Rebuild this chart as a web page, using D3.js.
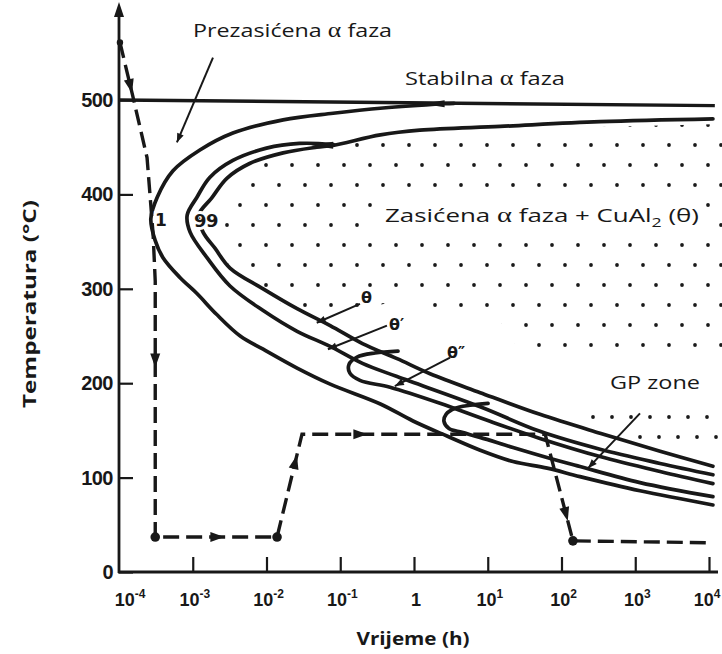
<!DOCTYPE html>
<html>
<head>
<meta charset="utf-8">
<script src="https://cdn.jsdelivr.net/npm/d3@7/dist/d3.min.js"></script>
<style>
body { margin: 0; background: #fff; }
svg { display: block; }
</style>
</head>
<body>
<svg id="chart"></svg>
<script>
var width = 722,
    height = 654;

// axis ticks
var xTicks = [1e-4, 1e-3, 1e-2, 1e-1, 1, 10, 100, 1000, 1e4],
    xTickBase = ['10', '10', '10', '10', '1', '10', '10', '10', '10'],
    xTickExp = ['-4', '-3', '-2', '-1', '', '1', '2', '3', '4'],
    yTicks = [0, 100, 200, 300, 400, 500];

// curves, each point = [vrijeme (h), temperatura (°C)]
var solvus = [[1e-4, 500], [1.2e4, 494]];
var theta1 = [[3.5, 496.5], [2.6, 496], [0.38, 491.5], [0.08, 486], [0.0168, 479], [3.5e-3, 465], [1.25e-3, 447],
    [5.4e-4, 425], [3.3e-4, 397], [2.7e-4, 374], [3.1e-4, 351], [3.95e-4, 333], [6.7e-4, 312], [1.14e-3, 295],
    [2.1e-3, 273], [4.4e-3, 250], [9e-3, 236], [0.026, 216], [0.073, 199], [0.35, 178], [0.97, 160], [2.8, 144],
    [7.9, 129], [22, 117], [64, 110], [178, 101], [1160, 86], [1.13e4, 71]];
var theta99 = [[1.13e4, 480], [333, 477], [14.7, 472], [1.2, 468], [0.35, 463], [0.08, 452], [0.048, 450],
    [0.0168, 444], [6e-3, 433], [2.9e-3, 417], [1.8e-3, 396], [1.2e-3, 378], [1.38e-3, 360], [2e-3, 343],
    [3.2e-3, 322], [9e-3, 300], [0.026, 279], [0.073, 261], [0.2, 242], [0.59, 226], [1.65, 210], [7.9, 190],
    [51, 167], [333, 147], [2170, 128], [1.13e4, 112]];
var thetaP = [[0.08, 453], [0.028, 454], [0.01, 449], [3.5e-3, 436], [1.7e-3, 418], [1.14e-3, 397], [8.4e-4, 378],
    [9.2e-4, 360], [1.56e-3, 333], [3.2e-3, 303], [9e-3, 277], [0.026, 255], [0.073, 239], [0.2, 221],
    [0.59, 207], [7.9, 175], [51, 149], [333, 130], [2170, 115], [1.13e4, 103]];
var thetaPP = [[0.607, 234], [0.296, 232], [0.169, 227.7], [0.1315, 220], [0.135, 210.6], [0.185, 203],
    [0.473, 195.7], [2.25, 178.7], [10.7, 159.6], [51, 141.5], [333, 122.3], [2170, 106.4], [1.13e4, 93.6]];
var gpZone = [[10.1, 178.7], [5.74, 176.6], [3.6, 173.4], [2.72, 167], [2.55, 159.6], [2.98, 152], [4.48, 147.9],
    [7.85, 142.6], [22, 131.9], [63.5, 121.3], [178, 111.7], [1160, 94.7], [1.13e4, 79.8]];

// heat treatment path (dashed)
var quench = [[1.03e-4, 561], [1.55e-4, 503], [2.4e-4, 439], [2.9e-4, 358], [3.1e-4, 308], [3.1e-4, 37],
    [0.0139, 37], [0.0303, 146], [60, 146], [143, 33], [1e4, 31]];
var quenchDots = [0, 5, 6, 9];
var quenchArrows = [[0, 0.8], [4, 0.31], [5, 0.51], [6, 0.73], [7, 0.24], [8, 0.75]];   // [segment, fraction]
var mergeMarks = [[2.6, 496], [0.08, 452]];

// label leaders [from, to]
var leaders = [[[1.88e-3, 545], [6.1e-4, 455]], [[0.185, 284], [0.048, 264]], [[0.43, 261], [0.068, 236]],
    [[3.08, 227], [0.55, 197]], [[1160, 168], [229, 110]]];

// stippled regions
var stipple = [[2.5e-3, 335], [2.8e-3, 388], [4.4e-3, 412], [7.7e-3, 430], [0.021, 444], [0.185, 458.5], [3.1, 466],
    [70, 470], [1.5e4, 474.5], [1.5e4, 234], [27.4, 234], [14.7, 266], [2.25, 268], [1.2, 291.5], [0.099, 274.5],
    [0.021, 278.7], [8.7e-3, 295.7], [3.7e-3, 317]];
var stippleGP = [[229, 172], [1.5e4, 172], [1.5e4, 131], [849, 131], [849, 151], [229, 151]];

var ink = '#181818';

var svg = d3.select('#chart').attr('width', width).attr('height', height);
svg.append('rect').attr('width', width).attr('height', height).attr('fill', '#fff');

var x = d3.scaleLog().domain([1e-4, 1e4]).range([119, 709]),
    y = d3.scaleLinear().domain([0, 500]).range([572, 100]);

var defs = svg.append('defs');
defs.append('pattern').attr('id', 'dots').attr('patternUnits', 'userSpaceOnUse')
    .attr('width', 26).attr('height', 40)
    .selectAll('circle').data([[6, 5], [19, 25]]).enter().append('circle')
    .attr('cx', function(d) { return d[0]; }).attr('cy', function(d) { return d[1]; })
    .attr('r', 1.9).attr('fill', '#1a1a1a');
defs.append('pattern').attr('id', 'dotsGP').attr('patternUnits', 'userSpaceOnUse')
    .attr('width', 19).attr('height', 40)
    .selectAll('circle').data([[4, 17], [13, 37]]).enter().append('circle')
    .attr('cx', function(d) { return d[0]; }).attr('cy', function(d) { return d[1]; })
    .attr('r', 1.9).attr('fill', '#1a1a1a');

var poly = d3.line().x(function(d) { return x(d[0]); }).y(function(d) { return y(d[1]); });
svg.append('path').attr('d', poly(stipple) + 'Z').attr('fill', 'url(#dots)');
svg.append('path').attr('d', poly(stippleGP) + 'Z').attr('fill', 'url(#dotsGP)');

// text made of parts; alpha in a serif face like the original
function label(g, px, py, parts, len) {
    var t = g.append('text').attr('x', px).attr('y', py)
        .attr('font-family', 'Open Sans, sans-serif').attr('font-size', '19px').attr('fill', ink);
    parts.forEach(function(p) {
        var s = t.append('tspan').text(p.t);
        if (p.serif) s.attr('font-family', 'Liberation Serif, serif').attr('font-size', '21px');
        if (p.sub) s.attr('font-size', '13px').attr('dy', 5);
        if (p.up) s.attr('dy', -5);
    });
    if (len) t.attr('textLength', len).attr('lengthAdjust', 'spacingAndGlyphs');
    return t;
}

// big region label (white box hides the dots under it)
var zText = label(svg, 385, 222, [{t: 'Zasićena '}, {t: 'α', serif: true}, {t: ' faza + CuAl'},
    {t: '2', sub: true}, {t: ' (θ)', up: true}], 314);
var zb = zText.node().getBBox();
svg.insert('rect', 'text').attr('x', zb.x - 6).attr('y', zb.y - 4).attr('width', zb.width + 12)
    .attr('height', zb.height + 8).attr('fill', '#fff');

// axes
var xAxis = svg.append('g').attr('transform', 'translate(0,' + y(0) + ')')
    .call(d3.axisBottom(x).tickValues(xTicks.slice(1)).tickSizeInner(-15).tickSizeOuter(0).tickFormat(''));
xAxis.select('.domain').remove();
xAxis.selectAll('line').attr('stroke', ink).attr('stroke-width', 2.2);

var yAxis = svg.append('g').attr('transform', 'translate(' + x(1e-4) + ',0)')
    .call(d3.axisLeft(y).tickValues(yTicks).tickSizeInner(-14).tickSizeOuter(0).tickPadding(6));
yAxis.select('.domain').remove();
yAxis.selectAll('line').attr('stroke', ink).attr('stroke-width', 2.2);
yAxis.selectAll('text').attr('font-family', 'Liberation Sans, Arial, sans-serif').attr('font-weight', 'bold')
    .attr('font-size', '20px').attr('fill', ink).attr('letter-spacing', '-0.5px');

svg.append('line').attr('x1', x(1e-4) - 1).attr('x2', x.range()[1] + 9)
    .attr('y1', y(0)).attr('y2', y(0)).attr('stroke', ink).attr('stroke-width', 2.8);
svg.append('line').attr('x1', x(1e-4)).attr('x2', x(1e-4))
    .attr('y1', y(0) + 1).attr('y2', y(590)).attr('stroke', ink).attr('stroke-width', 2.8);
svg.append('path')
    .attr('d', 'M' + x(1e-4) + ',' + (y(590) - 13) + 'l-5,15l10,0z').attr('fill', ink);

var xl = svg.append('g').selectAll('text').data(xTicks).enter().append('text')
    .attr('x', function(d, i) { return x(d) + (i === 0 ? 11 : i === 8 ? -2 : 2); })
    .attr('y', 606).attr('text-anchor', 'middle')
    .attr('font-family', 'Liberation Sans, Arial, sans-serif').attr('font-weight', 'bold')
    .attr('font-size', '18px').attr('fill', ink);
xl.append('tspan').text(function(d, i) { return xTickBase[i]; });
xl.append('tspan').attr('dy', -8).attr('font-size', '12px').text(function(d, i) { return xTickExp[i]; });

svg.append('text').attr('x', 413).attr('y', 645).attr('text-anchor', 'middle')
    .attr('font-family', 'Open Sans, sans-serif').attr('font-weight', 'bold').attr('font-size', '18px')
    .attr('textLength', 113).attr('lengthAdjust', 'spacingAndGlyphs').attr('fill', ink)
    .text('Vrijeme (h)');
svg.append('text').attr('transform', 'translate(36,304) rotate(-90)').attr('text-anchor', 'middle')
    .attr('font-family', 'Open Sans, sans-serif').attr('font-weight', 'bold').attr('font-size', '18px')
    .attr('textLength', 208).attr('lengthAdjust', 'spacingAndGlyphs').attr('fill', ink)
    .text('Temperatura (°C)');

// solvus and C curves
var smooth = d3.line().x(function(d) { return x(d[0]); }).y(function(d) { return y(d[1]); })
    .curve(d3.curveCatmullRom.alpha(0.5));
svg.append('path').attr('d', poly(solvus)).attr('fill', 'none').attr('stroke', ink).attr('stroke-width', 3.4);
[theta1, theta99, thetaP, thetaPP, gpZone].forEach(function(c) {
    svg.append('path').attr('d', smooth(c)).attr('fill', 'none')
        .attr('stroke', ink).attr('stroke-width', 3.7).attr('stroke-linecap', 'round');
});
svg.selectAll('.merge').data(mergeMarks).enter().append('path').attr('class', 'merge')
    .attr('transform', function(d) { return 'translate(' + x(d[0]) + ',' + y(d[1]) + ')'; })
    .attr('d', 'M-22,0L0,-3.5L0,3.5Z').attr('fill', ink);

// other annotation texts
var ann = svg.append('g');
label(ann, 193, 37, [{t: 'Prezasićena '}, {t: 'α', serif: true}, {t: ' faza'}], 199);
label(ann, 405, 85, [{t: 'Stabilna '}, {t: 'α', serif: true}, {t: ' faza'}], 160);
label(ann, 610, 389, [{t: 'GP zone'}], 90);

var halo = svg.append('g').attr('font-family', 'DejaVu Sans, sans-serif').attr('font-weight', 'bold')
    .attr('fill', ink).attr('stroke', '#fff').attr('stroke-width', 6).attr('paint-order', 'stroke');
halo.append('text').attr('x', 155).attr('y', 226).attr('font-size', '17px').text('1');
halo.append('text').attr('x', 194).attr('y', 227).attr('font-size', '18px').attr('letter-spacing', '-0.5px').text('99');
halo.append('text').attr('x', 361).attr('y', 303).attr('font-size', '16px').text('θ');
halo.append('text').attr('x', 389).attr('y', 330).attr('font-size', '16px').text('θ′');
halo.append('text').attr('x', 447).attr('y', 358).attr('font-size', '16px').text('θ″');

// leaders with small arrow heads
leaders.forEach(function(l) {
    var x1 = x(l[0][0]), y1 = y(l[0][1]), x2 = x(l[1][0]), y2 = y(l[1][1]);
    var a = Math.atan2(y2 - y1, x2 - x1) * 180 / Math.PI;
    svg.append('line').attr('x1', x1).attr('y1', y1).attr('x2', x2).attr('y2', y2)
        .attr('stroke', ink).attr('stroke-width', 2);
    svg.append('path').attr('transform', 'translate(' + x2 + ',' + y2 + ') rotate(' + a + ')')
        .attr('d', 'M0,0L-9,-3.5L-9,3.5Z').attr('fill', ink);
});

// heat treatment path
svg.append('path').attr('d', poly(quench)).attr('fill', 'none').attr('stroke', ink)
    .attr('stroke-width', 3.4).attr('stroke-dasharray', '16,7');
svg.selectAll('.qdot').data(quenchDots).enter().append('circle').attr('class', 'qdot')
    .attr('cx', function(i) { return x(quench[i][0]); }).attr('cy', function(i) { return y(quench[i][1]); })
    .attr('r', function(i) { return i === 0 ? 3.2 : 4.8; }).attr('fill', ink);
quenchArrows.forEach(function(q) {
    var a = quench[q[0]], b = quench[q[0] + 1];
    var ax = x(a[0]), ay = y(a[1]), bx = x(b[0]), by = y(b[1]);
    var px = ax + (bx - ax) * q[1], py = ay + (by - ay) * q[1];
    var ang = Math.atan2(by - ay, bx - ax) * 180 / Math.PI;
    svg.append('path').attr('transform', 'translate(' + px + ',' + py + ') rotate(' + ang + ')')
        .attr('d', 'M7,0L-7,-5L-7,5Z').attr('fill', ink);
});
</script>
</body>
</html>
